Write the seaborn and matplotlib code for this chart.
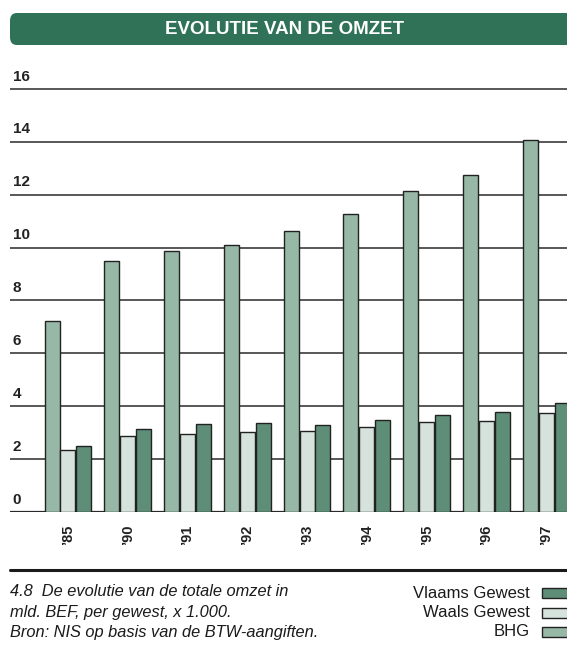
import matplotlib
matplotlib.use("Agg")
import matplotlib.pyplot as plt
import numpy as np
import pandas as pd
import seaborn as sns
from matplotlib.patches import FancyBboxPatch, Rectangle
from matplotlib.lines import Line2D

# Data (mld. BEF x 1.000)
years = ["\u201985", "\u201990", "\u201991", "\u201992", "\u201993",
         "\u201994", "\u201995", "\u201996", "\u201997"]
bhg = [7.24, 9.48, 9.85, 10.10, 10.62, 11.28, 12.12, 12.74, 14.05]
waals = [2.34, 2.86, 2.96, 3.01, 3.05, 3.20, 3.39, 3.44, 3.74]
vlaams = [2.48, 3.14, 3.32, 3.35, 3.28, 3.47, 3.67, 3.78, 4.11]
y_ticks = [0, 2, 4, 6, 8, 10, 12, 14, 16]

series_names = ["BHG", "Waals Gewest", "Vlaams Gewest"]
colors = {"BHG": "#97b8a6", "Waals Gewest": "#d6e2dc", "Vlaams Gewest": "#5e8e78"}

df = pd.DataFrame({
    "jaar": years * 3,
    "gewest": ["BHG"] * len(years) + ["Waals Gewest"] * len(years) + ["Vlaams Gewest"] * len(years),
    "omzet": bhg + waals + vlaams,
})

sns.set_theme(style="white")
plt.rcParams["font.family"] = ["Liberation Sans", "DejaVu Sans"]

fig = plt.figure(figsize=(5.67, 6.5), dpi=100)
ax = fig.add_axes([10 / 567, 138 / 650, 1 - 10 / 567, 447 / 650])

# gridlines behind bars
for v in y_ticks:
    ax.axhline(v, color="#2a2a2a", lw=1.6 if v == 0 else 1.1, zorder=0)

sns.barplot(data=df, x="jaar", y="omzet", hue="gewest", hue_order=series_names,
            palette=colors, saturation=1, width=0.8, gap=0.06,
            edgecolor="#222222", linewidth=1.0, ax=ax, legend=False, zorder=2)

ax.set_xlim(-0.97, 8.35)
ax.set_ylim(0, 16.9)
for s in ax.spines.values():
    s.set_visible(False)
ax.set_yticks([])
ax.set_xlabel("")
ax.set_ylabel("")
ax.tick_params(axis="x", length=0, pad=9)
ax.set_xticks(range(len(years)))
ax.set_xticklabels(years, rotation=90, fontweight="bold", fontsize=10.5, color="#222222")

for v in y_ticks:
    ax.text(0.005, v + 0.2, str(v), transform=ax.get_yaxis_transform(),
            ha="left", va="bottom", fontsize=11, fontweight="bold", color="#222222")

# title banner
banner = FancyBboxPatch((10 / 567, 605 / 650), 600 / 567, 32 / 650,
                        boxstyle="round,pad=0,rounding_size=0.012",
                        transform=fig.transFigure, facecolor="#2f7257",
                        edgecolor="none", clip_on=False)
fig.add_artist(banner)
fig.text(285 / 567, 621 / 650, "EVOLUTIE VAN DE OMZET", color="white",
         fontsize=13.5, fontweight="bold", ha="center", va="center")

# separator line
fig.add_artist(Line2D([10 / 567, 1.0], [80 / 650, 80 / 650],
                      transform=fig.transFigure, color="#1a1a1a", lw=2.2))

caption = ["4.8  De evolutie van de totale omzet in",
           "mld. BEF, per gewest, x 1.000.",
           "Bron: NIS op basis van de BTW-aangiften."]
for i, line in enumerate(caption):
    fig.text(10 / 567, (650 - 591 - i * 21) / 650, line, fontsize=11.8, style="italic",
             color="#1a1a1a", ha="left", va="center")

legend_rows = ["Vlaams Gewest", "Waals Gewest", "BHG"]
for i, name in enumerate(legend_rows):
    yc = 650 - 593 - i * 19.5
    fig.text(530 / 567, yc / 650, name, fontsize=12, color="#1a1a1a",
             ha="right", va="center")
    fig.add_artist(Rectangle((542 / 567, (yc - 5) / 650), 30 / 567, 10 / 650,
                             transform=fig.transFigure, facecolor=colors[name],
                             edgecolor="#222222", lw=1.0))

fig.savefig("out.png", dpi=100)
